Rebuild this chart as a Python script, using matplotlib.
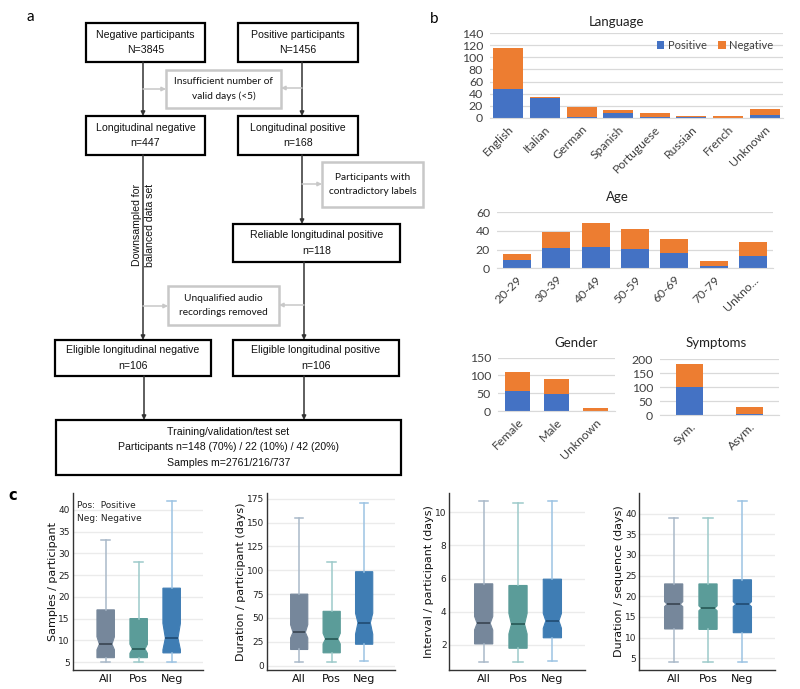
import numpy as np
import matplotlib
matplotlib.use("Agg")
import matplotlib.pyplot as plt
from matplotlib.patches import Rectangle

W, H = 800, 689

# ---------------- data ----------------
lang_cats = ["English", "Italian", "German", "Spanish", "Portuguese", "Russian", "French", "Unknown"]
lang_pos = [48, 33, 2, 8, 2, 2, 0, 5]
lang_neg = [68, 2, 16, 5, 6, 2, 3, 9]

age_cats = ["20-29", "30-39", "40-49", "50-59", "60-69", "70-79", "Unkno..."]
age_pos = [9, 22, 23, 21, 16, 2, 13]
age_neg = [6, 17, 26, 21, 15, 6, 15]

gender_cats = ["Female", "Male", "Unknown"]
gender_pos = [55, 48, 0]
gender_neg = [55, 42, 9]

symp_cats = ["Sym.", "Asym."]
symp_pos = [100, 5]
symp_neg = [82, 25]

box_groups = ["All", "Pos", "Neg"]
samples_lo = [5, 5, 5]
samples_q1 = [6, 6, 7.1]
samples_med = [9.1, 8.0, 10.5]
samples_q3 = [17, 15, 22]
samples_hi = [33, 28, 42]
samples_cilo = [7.8, 7.0, 7.8]
samples_cihi = [10.8, 9.1, 13.9]

dur_lo = [4, 4, 5]
dur_q1 = [17, 13.5, 22.5]
dur_med = [35, 28, 45]
dur_q3 = [75, 57, 98.5]
dur_hi = [155, 109, 171]
dur_cilo = [29, 22.8, 33]
dur_cihi = [43, 34, 55]

int_lo = [1.0, 1.0, 1.06]
int_q1 = [2.06, 1.8, 2.43]
int_med = [3.3, 3.25, 3.45]
int_q3 = [5.68, 5.58, 5.96]
int_hi = [10.65, 10.57, 10.65]
int_cilo = [2.9, 2.66, 3.0]
int_cihi = [3.72, 3.9, 3.9]

seq_lo = [4, 4, 4]
seq_q1 = [12.1, 12, 11.2]
seq_med = [18.1, 17.1, 18.1]
seq_q3 = [23, 23, 24]
seq_hi = [39, 39, 43]
seq_cilo = [17.5, 16.5, 17.5]
seq_cihi = [18.7, 17.7, 18.7]

flow_boxes = [
    # (x0, y0, x1, y1, lines, style)
    (86, 23, 205, 62, ["Negative participants", "N=3845"], "main"),
    (238, 23, 358, 62, ["Positive participants", "N=1456"], "main"),
    (166, 70, 281, 108, ["Insufficient number of", "valid days (<5)"], "gray"),
    (86, 116, 205, 155, ["Longitudinal negative", "n=447"], "main"),
    (238, 116, 358, 155, ["Longitudinal positive", "n=168"], "main"),
    (322, 162, 423, 207, ["Participants with", "contradictory labels"], "gray"),
    (233, 224, 400, 262, ["Reliable longitudinal positive", "n=118"], "main"),
    (168, 286, 279, 325, ["Unqualified audio", "recordings removed"], "gray"),
    (55, 340, 211, 376, ["Eligible longitudinal negative", "n=106"], "main"),
    (233, 340, 399, 376, ["Eligible longitudinal positive", "n=106"], "main"),
    (56, 420, 401, 475, ["Training/validation/test set",
                         "Participants n=148 (70%) / 22 (10%) / 42 (20%)",
                         "Samples m=2761/216/737"], "main"),
]

BLUE = "#4472C4"
ORANGE = "#ED7D31"
BOX_FACE = ["#76879B", "#5B9C99", "#3F7DB4"]
BOX_WHISK = ["#A9B9C9", "#9DCACA", "#9CC3E3"]
BOX_MED = ["#3E4957", "#2B5D5A", "#234F78"]

fig = plt.figure(figsize=(W / 100, H / 100), dpi=100)


def px_axes(x0, y0, x1, y1):
    ax = fig.add_axes([x0 / W, 1 - y1 / H, (x1 - x0) / W, (y1 - y0) / H])
    ax.set_facecolor("none")
    return ax


# ---------------- overlay (flowchart + labels) ----------------
ov = fig.add_axes([0, 0, 1, 1])
ov.set_xlim(0, W)
ov.set_ylim(H, 0)
ov.axis("off")

FLOW_FONT = "Liberation Sans"
for x0, y0, x1, y1, lines, style in flow_boxes:
    if style == "main":
        ov.add_patch(Rectangle((x0, y0), x1 - x0, y1 - y0, fill=False, ec="black", lw=1.6))
        fam, fs, ls = FLOW_FONT, 7.6, 15.5
    else:
        ov.add_patch(Rectangle((x0, y0), x1 - x0, y1 - y0, fill=False, ec="#C8C8C8", lw=1.8))
        fam, fs, ls = "Lato", 7.3, 14.5
    n = len(lines)
    cy = (y0 + y1) / 2
    for i, t in enumerate(lines):
        ov.text((x0 + x1) / 2, cy + (i - (n - 1) / 2) * ls, t, ha="center", va="center",
                fontsize=fs, family=fam, color="#111111")

dark_arrows = [((143, 62), (143, 116)), ((302, 62), (302, 116)),
               ((143, 155), (143, 340)), ((302, 155), (302, 224)),
               ((304, 262), (304, 340)), ((144, 376), (144, 420)),
               ((304, 376), (304, 420))]
gray_arrows = [((143, 89), (166, 89)), ((302, 88), (281, 88)),
               ((302, 184), (322, 184)), ((304, 305), (279, 305)),
               ((143, 306), (168, 306))]
for (a, b) in dark_arrows:
    ov.annotate("", xy=b, xytext=a,
                arrowprops=dict(arrowstyle="-|>", color="#333333", lw=1.1,
                                mutation_scale=6, shrinkA=0, shrinkB=0))
for (a, b) in gray_arrows:
    ov.annotate("", xy=b, xytext=a,
                arrowprops=dict(arrowstyle="-|>", color="#C8C8C8", lw=1.1,
                                mutation_scale=6, shrinkA=0, shrinkB=0))

ov.text(136.5, 225, "Downsampled for", rotation=90, ha="center", va="center",
        fontsize=7.6, family=FLOW_FONT, color="#111111")
ov.text(150, 225, "balanced data set", rotation=90, ha="center", va="center",
        fontsize=7.6, family=FLOW_FONT, color="#111111")

ov.text(30, 17, "a", fontsize=11, family="Lato", ha="center", va="center")
ov.text(434, 19, "b", fontsize=11, family="Lato", ha="center", va="center")
ov.text(13, 496, "c", fontsize=10.5, family="DejaVu Sans", fontweight="bold",
        ha="center", va="center")


# ---------------- bar panels ----------------
def bar_panel(rect, cats, pos, neg, ymax, step, width, title, txy, legend=False):
    ax = px_axes(*rect)
    x = np.arange(len(cats))
    ax.bar(x, pos, width, color=BLUE, label="Positive", zorder=2)
    ax.bar(x, neg, width, bottom=pos, color=ORANGE, label="Negative", zorder=2)
    ax.set_xlim(-0.5, len(cats) - 0.5)
    ax.set_ylim(0, ymax)
    ax.set_yticks(np.arange(0, ymax + 1, step))
    ax.grid(axis="y", color="#D9D9D9", lw=0.9)
    ax.set_axisbelow(True)
    for s in ["top", "right", "left"]:
        ax.spines[s].set_visible(False)
    ax.spines["bottom"].set_color("#D9D9D9")
    ax.tick_params(axis="y", length=0, labelsize=8.8, colors="#404040", pad=5)
    ax.tick_params(axis="x", length=0, labelsize=8.8, colors="#404040", pad=4)
    ax.set_xticks(x)
    ax.set_xticklabels(cats, rotation=45, ha="right", rotation_mode="anchor")
    for lab in ax.get_xticklabels() + ax.get_yticklabels():
        lab.set_family("Lato")
    ov.text(txy[0], txy[1], title, fontsize=9.5, family="Lato", ha="center", va="center",
            color="#222222")
    if legend:
        ax.legend(loc="center right", bbox_to_anchor=(1.0, 0.85), ncol=2, frameon=False,
                  prop={"family": "Lato", "size": 8}, handlelength=0.7, handleheight=0.7,
                  handletextpad=0.3, columnspacing=1.0, labelcolor="#404040")
    return ax


bar_panel((490, 33, 783, 118), lang_cats, lang_pos, lang_neg, 140, 20, 0.82,
          "Language", (617, 22), legend=True)
bar_panel((497, 212.3, 773, 268.3), age_cats, age_pos, age_neg, 60, 20, 0.71,
          "Age", (617, 197))
bar_panel((498, 357.7, 615, 411), gender_cats, gender_pos, gender_neg, 150, 50, 0.64,
          "Gender", (576, 343))
bar_panel((660, 359, 779, 415), symp_cats, symp_pos, symp_neg, 200, 50, 0.45,
          "Symptoms", (716, 343))


# ---------------- box panels ----------------
BOX_W = 0.53
WAIST = 0.36 * BOX_W


def box_panel(rect, lo, q1, med, q3, hi, cilo, cihi, ylim, ticks, ylabel):
    ax = px_axes(*rect)
    stats = []
    for i, g in enumerate(box_groups):
        stats.append(dict(label=g, whislo=lo[i], q1=q1[i], med=med[i], q3=q3[i],
                          whishi=hi[i], cilo=cilo[i], cihi=cihi[i], fliers=[]))
    positions = [0, 1, 2]
    bp = ax.bxp(stats, positions=positions, widths=BOX_W, shownotches=True,
                patch_artist=True, showfliers=False)
    for i in range(3):
        box = bp["boxes"][i]
        verts = box.get_path().vertices
        mask = np.isclose(verts[:, 1], med[i])
        verts[mask, 0] = positions[i] + np.sign(verts[mask, 0] - positions[i]) * WAIST
        box.set_facecolor(BOX_FACE[i])
        box.set_edgecolor(BOX_FACE[i])
        box.set_linewidth(0.8)
        bp["medians"][i].set_xdata([positions[i] - WAIST, positions[i] + WAIST])
        bp["medians"][i].set_color(BOX_MED[i])
        bp["medians"][i].set_linewidth(1.3)
        for w in bp["whiskers"][2 * i:2 * i + 2]:
            w.set_color(BOX_WHISK[i])
            w.set_linewidth(1.1)
        for c in bp["caps"][2 * i:2 * i + 2]:
            c.set_color(BOX_WHISK[i])
            c.set_linewidth(1.1)
    ax.set_xlim(-1.0, 2.95)
    ax.set_ylim(*ylim)
    ax.set_yticks(ticks)
    ax.grid(axis="y", color="#EBEBEB", lw=1.0)
    ax.set_axisbelow(True)
    for s in ["top", "right"]:
        ax.spines[s].set_visible(False)
    for s in ["left", "bottom"]:
        ax.spines[s].set_color("#333333")
        ax.spines[s].set_linewidth(1.0)
    ax.tick_params(axis="y", length=0, labelsize=6.5, pad=2, colors="#222222")
    ax.tick_params(axis="x", length=0, labelsize=8, pad=3, colors="#111111")
    ax.set_xticks(positions)
    ax.set_xticklabels(box_groups)
    ax.set_ylabel(ylabel, fontsize=8, labelpad=0.5, color="#111111")
    return ax


ax1 = box_panel((72.7, 493, 203, 670), samples_lo, samples_q1, samples_med, samples_q3,
                samples_hi, samples_cilo, samples_cihi, (3.16, 43.9),
                np.arange(5, 41, 5), "Samples / participant")
ax1.text(0.03, 0.93, "Pos:  Positive", transform=ax1.transAxes, fontsize=6.5,
         va="center", color="#222222")
ax1.text(0.03, 0.855, "Neg: Negative", transform=ax1.transAxes, fontsize=6.5,
         va="center", color="#222222")

box_panel((266.7, 493, 395, 670), dur_lo, dur_q1, dur_med, dur_q3, dur_hi, dur_cilo,
          dur_cihi, (-4.5, 181), np.arange(0, 176, 25), "Duration / participant (days)")
box_panel((449.3, 493, 585, 670), int_lo, int_q1, int_med, int_q3, int_hi, int_cilo,
          int_cihi, (0.49, 11.15), [2, 4, 6, 8, 10], "Interval / participant (days)")
box_panel((639.3, 493, 775, 670), seq_lo, seq_q1, seq_med, seq_q3, seq_hi, seq_cilo,
          seq_cihi, (2.17, 45), np.arange(5, 41, 5), "Duration / sequence (days)")

fig.savefig("out.png", dpi=100)
